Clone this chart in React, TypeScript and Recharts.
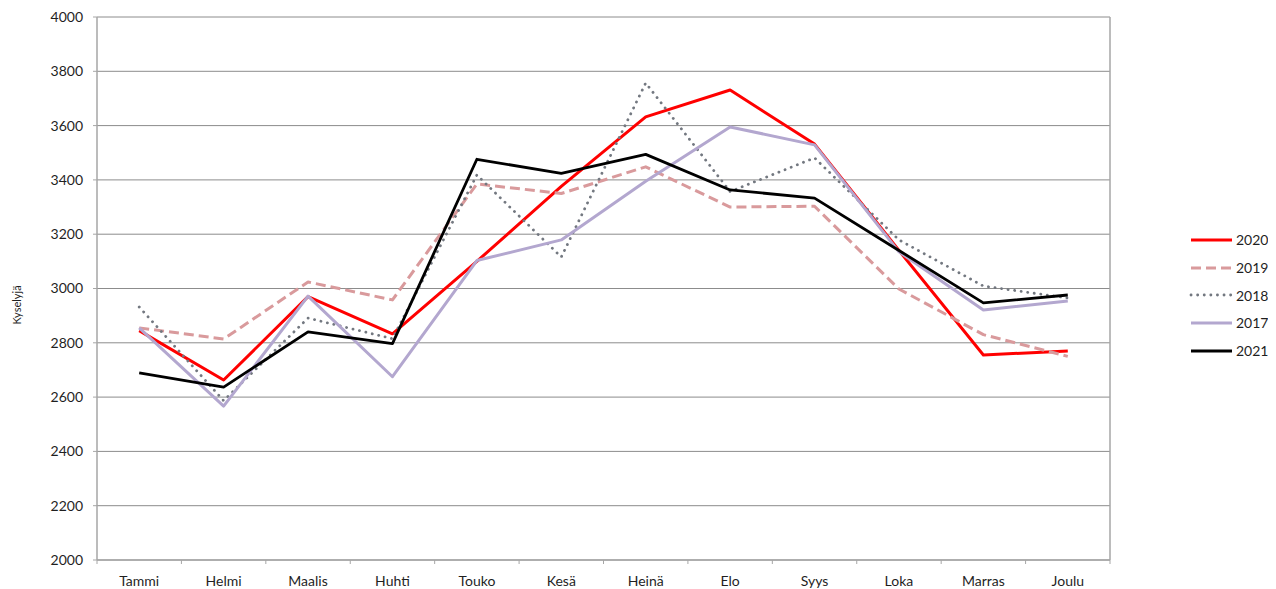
import React from 'react';
import { LineChart, Line, XAxis, YAxis, CartesianGrid } from 'recharts';

const months = ['Tammi', 'Helmi', 'Maalis', 'Huhti', 'Touko', 'Kesä', 'Heinä', 'Elo', 'Syys', 'Loka', 'Marras', 'Joulu'];
const yTicks = [2000, 2200, 2400, 2600, 2800, 3000, 3200, 3400, 3600, 3800, 4000];

const v2020 = [2845, 2663, 2970, 2833, 3100, 3376, 3632, 3731, 3532, 3140, 2755, 2770];
const v2019 = [2855, 2814, 3024, 2958, 3385, 3350, 3448, 3300, 3303, 2998, 2830, 2750];
const v2018 = [2932, 2587, 2891, 2815, 3418, 3116, 3757, 3357, 3481, 3179, 3009, 2965];
const v2017 = [2855, 2567, 2972, 2675, 3103, 3179, 3395, 3595, 3529, 3135, 2921, 2954];
const v2021 = [2689, 2637, 2840, 2797, 3476, 3424, 3494, 3363, 3333, 3140, 2947, 2976];

const seriesNames = ['2020', '2019', '2018', '2017', '2021'];

const data = months.map((m, i) => ({
  month: m,
  '2020': v2020[i],
  '2019': v2019[i],
  '2018': v2018[i],
  '2017': v2017[i],
  '2021': v2021[i],
}));

const FONT = 'Lato, "Open Sans", "Liberation Sans", sans-serif';
const TEXT = '#1f1f1f';
const GRID = '#8c8c8c';
const AXIS = '#a6a6a6';

const W = 1268;
const H = 581;
const M = { top: 9, right: 165, left: 29, bottom: 0 };
const YW = 60;
const PLOT_LEFT = M.left + YW;
const PLOT_RIGHT = W - M.right - 1;
const BAND = (PLOT_RIGHT - PLOT_LEFT) / months.length;

const styles: Record<string, { stroke: string; width: number; dash?: string; cap?: 'round' | 'butt' }> = {
  '2020': { stroke: '#ff0000', width: 3 },
  '2019': { stroke: '#d99a9c', width: 3, dash: '10 5' },
  '2018': { stroke: '#737880', width: 2.8, dash: '0.1 6.5', cap: 'round' },
  '2017': { stroke: '#b3a7cf', width: 3 },
  '2021': { stroke: '#000000', width: 2.8 },
};

const XTick = (props: any) => {
  const { x, y, payload, index } = props;
  const axisY = y - 16;
  const left = x - BAND / 2;
  return (
    <g>
      <line x1={left} x2={left} y1={axisY} y2={axisY + 4} stroke={AXIS} strokeWidth={1} />
      {index === months.length - 1 && (
        <line x1={x + BAND / 2} x2={x + BAND / 2} y1={axisY} y2={axisY + 4} stroke={AXIS} strokeWidth={1} />
      )}
      <text x={x} y={y} dy="0.71em" textAnchor="middle" fill={TEXT} fontSize={14} fontFamily={FONT}>
        {payload.value}
      </text>
    </g>
  );
};

const YLabel = () => (
  <text
    x={8}
    y={297}
    transform="rotate(-90 8 297)"
    textAnchor="middle"
    dominantBaseline="central"
    fontSize={11}
    fill={TEXT}
    fontFamily={FONT}
  >
    Kyselyjä
  </text>
);

export default function App() {
  return (
    <div style={{ position: 'relative', width: W, height: H, fontFamily: FONT }}>
      <LineChart width={W} height={H} data={data} margin={M}>
        <CartesianGrid horizontal vertical={false} stroke={GRID} strokeWidth={1} />
        <XAxis
          dataKey="month"
          scale="band"
          height={29}
          interval={0}
          tickSize={0}
          tickMargin={16}
          tickLine={false}
          axisLine={{ stroke: AXIS, strokeWidth: 1.5 }}
          tick={<XTick />}
        />
        <YAxis
          domain={[2000, 4000]}
          ticks={yTicks}
          interval={0}
          width={YW}
          tickSize={4}
          tickMargin={10}
          tickLine={{ stroke: AXIS }}
          axisLine={{ stroke: AXIS, strokeWidth: 1.5 }}
          tick={{ fill: TEXT, fontSize: 14, fontFamily: FONT }}
          label={{ content: <YLabel /> }}
        />
        <YAxis
          yAxisId="right"
          orientation="right"
          domain={[2000, 4000]}
          ticks={yTicks}
          width={1}
          tick={false}
          tickLine={false}
          axisLine={{ stroke: AXIS, strokeWidth: 1.5 }}
        />
        {seriesNames.map((name) => {
          const s = styles[name];
          return (
            <Line
              key={name}
              type="linear"
              dataKey={name}
              stroke={s.stroke}
              strokeWidth={s.width}
              strokeDasharray={s.dash}
              strokeLinecap={s.cap || 'butt'}
              strokeLinejoin="round"
              dot={false}
              activeDot={false}
              isAnimationActive={false}
            />
          );
        })}
      </LineChart>
      <div style={{ position: 'absolute', left: 1181, top: 218 }}>
        {seriesNames.map((name) => {
          const s = styles[name];
          return (
            <div key={name} style={{ height: 27.7, display: 'flex', alignItems: 'center' }}>
              <svg width={46} height={12}>
                <line
                  x1={2}
                  x2={43}
                  y1={6}
                  y2={6}
                  stroke={s.stroke}
                  strokeWidth={s.width}
                  strokeDasharray={s.dash}
                  strokeLinecap={s.cap || 'butt'}
                />
              </svg>
              <span style={{ fontSize: 14, color: TEXT, fontFamily: FONT, marginLeft: 1 }}>{name}</span>
            </div>
          );
        })}
      </div>
    </div>
  );
}
